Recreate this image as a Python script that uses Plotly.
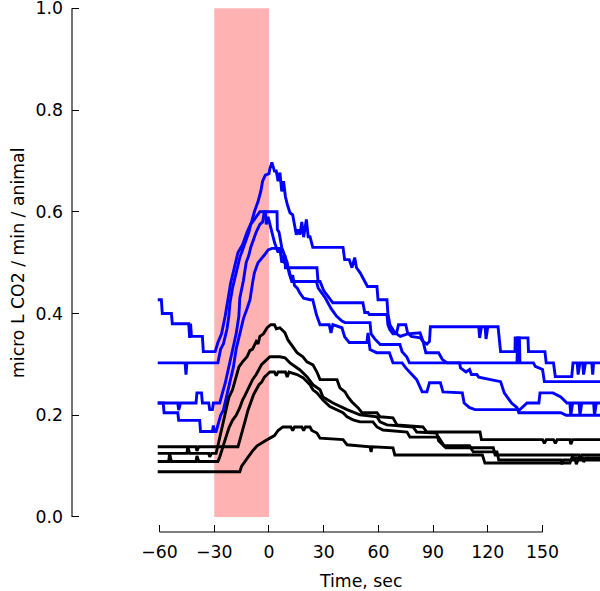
import plotly.graph_objects as go

# ---------------- data (time in s, value in micro L CO2 / min / animal) ----------------
blue_1 = [(-61,0.427),(-59,0.427),(-58.5,0.40),(-53.5,0.40),(-53,0.38),(-44,0.38),(-43.5,0.352),(-43,0.38),
          (-42.5,0.355),(-36.5,0.355),(-36,0.325),(-29.5,0.325),(-28,0.343),(-26,0.36),(-24,0.395),(-22.5,0.427),
          (-21,0.46),(-19,0.49),(-17,0.52),(-14.5,0.535),(-12,0.56),(-9.5,0.58),(-8,0.6),(-6,0.62),(-4.5,0.64),
          (-3.5,0.66),(-2,0.672),(0,0.675),(0.5,0.685),(1.6,0.697),(3,0.68),(4,0.68),(5,0.66),(6,0.677),(7,0.64),
          (8,0.66),(9,0.63),(10,0.615),(11.5,0.598),(13,0.594),(14,0.575),(15,0.555),(16,0.565),(17,0.555),
          (18,0.58),(19,0.55),(20.5,0.585),(21.5,0.551),(22.5,0.551),(24,0.53),(40.6,0.53),(41.5,0.506),
          (44,0.506),(45.5,0.49),(47,0.51),(48,0.49),(50,0.48),(51.5,0.47),(54,0.453),(59.2,0.453),(59.8,0.427),
          (64.7,0.427),(65.2,0.40),(66.3,0.378),(69,0.362),(70,0.362),(71,0.378),(75,0.378),(76,0.362),
          (78,0.355),(83,0.352),(84.4,0.345),(86.6,0.34),(88,0.345),(88.5,0.374),(115,0.374),(115.5,0.352),
          (116.5,0.374),(118.5,0.374),(119,0.35),(120,0.374),(125.6,0.374),(127,0.325),(134.9,0.325),
          (135,0.352),(142,0.352),(142.3,0.325),(151.3,0.325),(152,0.303),(156,0.303),(157,0.276),(166,0.276),
          (166.7,0.303),(169,0.303),(169.5,0.28),(170.5,0.303),(172,0.303),(172.5,0.28),(173.5,0.303),
          (177,0.303),(177.5,0.28),(178,0.303),(181.5,0.303)]

blue_2 = [(-61,0.303),(-46,0.303),(-45.5,0.28),(-45,0.303),(-28,0.303),(-26.5,0.33),(-25,0.34),(-23,0.37),
          (-22,0.395),(-21.4,0.42),(-20,0.45),(-18,0.48),(-16,0.51),(-14.5,0.525),(-13,0.54),(-11,0.56),
          (-10,0.575),(-8,0.585),(-6.5,0.595),(-5,0.6),(-2,0.6),(-1.5,0.575),(-0.5,0.59),(0.5,0.575),(1.5,0.56),
          (3,0.54),(5,0.52),(6,0.53),(7,0.5),(8.8,0.515),(9,0.49),(26.3,0.49),(26.9,0.463),(28,0.463),
          (30,0.445),(33,0.43),(35,0.421),(51.5,0.421),(52.5,0.402),(54.3,0.402),(55,0.398),(64.7,0.398),
          (65.2,0.378),(66.3,0.368),(68,0.36),(70,0.36),(72,0.355),(76,0.36),(80,0.362),(82.8,0.362),
          (84.5,0.345),(86,0.323),(93,0.323),(95,0.31),(97.6,0.303),(136,0.303),(136.3,0.352),(137.3,0.352),
          (137.6,0.303),(145,0.303),(146,0.296),(150,0.29),(151,0.266),(181.5,0.266)]

blue_3 = [(-61,0.224),(-50,0.224),(-49.5,0.21),(-48.5,0.224),(-40,0.224),(-39.5,0.244),(-37,0.244),
          (-36.5,0.224),(-33,0.224),(-32.5,0.211),(-31,0.211),(-30.5,0.224),(-27,0.224),(-26,0.235),
          (-25.8,0.24),(-24,0.263),(-22,0.295),(-20,0.33),(-18,0.36),(-16.5,0.395),(-16,0.43),(-14,0.465),
          (-12.5,0.5),(-11,0.515),(-10,0.53),(-8.5,0.545),(-7,0.56),(-5,0.575),(-3.5,0.58),(-2.5,0.6),
          (4.4,0.6),(4.6,0.565),(5.5,0.56),(7,0.53),(8.5,0.515),(10,0.5),(11,0.48),(12.5,0.463),(26,0.463),
          (27,0.45),(29,0.44),(31,0.43),(34,0.41),(37,0.395),(40,0.385),(41.7,0.382),(55.4,0.382),(56,0.36),
          (58,0.35),(60,0.343),(61,0.339),(71.8,0.339),(73,0.325),(75.5,0.315),(77,0.303),(104.5,0.303),
          (105,0.293),(108,0.285),(110,0.29),(111,0.28),(114,0.28),(115,0.275),(118,0.273),(121,0.27),
          (124,0.268),(127,0.266),(129,0.244),(131,0.235),(133,0.224),(136,0.215),(137,0.205),(160,0.205),
          (163,0.2),(181.5,0.2)]

blue_4 = [(-61,0.224),(-58,0.224),(-57.5,0.205),(-50,0.205),(-49.5,0.19),(-38,0.19),(-37.5,0.168),
          (-31,0.168),(-30.5,0.18),(-30,0.168),(-29,0.168),(-28,0.18),(-26.5,0.2),(-25,0.21),(-23.5,0.235),
          (-21.5,0.265),(-19.5,0.295),(-18,0.33),(-16,0.36),(-14,0.39),(-12,0.41),(-10.4,0.427),(-9,0.46),
          (-8,0.48),(-6,0.5),(-3.5,0.51),(-2.5,0.515),(-0.5,0.525),(1.6,0.528),(6,0.528),(7,0.51),(8.5,0.5),
          (10,0.49),(11,0.485),(12,0.47),(13,0.475),(14,0.455),(15.5,0.45),(17,0.44),(19,0.43),(22.5,0.427),
          (24,0.427),(26,0.398),(28,0.378),(33,0.378),(34,0.362),(35,0.378),(40,0.372),(41.5,0.354),
          (44,0.343),(53.7,0.343),(54.3,0.362),(55.4,0.329),(59,0.323),(66,0.323),(68,0.303),(73,0.303),
          (75,0.293),(81,0.27),(84,0.246),(86.6,0.246),(88,0.264),(94,0.264),(95.4,0.246),(106,0.244),
          (107,0.224),(110,0.215),(113,0.211),(137.6,0.211),(141.5,0.224),(148,0.224),(148.6,0.244),
          (155.7,0.244),(160,0.236),(163.4,0.224),(165,0.224),(165.5,0.2),(166.5,0.224),(170,0.224),
          (170.5,0.2),(171.5,0.224),(178,0.224),(178.5,0.2),(179.5,0.224),(181.5,0.224)]

black_1 = [(-61,0.125),(-45,0.125),(-44.5,0.138),(-43.5,0.125),(-33,0.125),(-32.5,0.118),(-31.5,0.125),
           (-29,0.125),(-28,0.14),(-26.5,0.165),(-25,0.19),(-23.5,0.215),(-22,0.235),(-20,0.25),(-18.5,0.27),
           (-16.5,0.295),(-14.5,0.305),(-12,0.315),(-10.5,0.327),(-9,0.33),(-7,0.345),(-6,0.34),(-5,0.355),
           (-3,0.36),(-1,0.372),(1,0.378),(3,0.378),(4,0.37),(6,0.372),(8.8,0.362),(10.4,0.348),(13.2,0.335),
           (15.4,0.323),(18.6,0.315),(20.8,0.305),(24.1,0.299),(26.3,0.285),(28,0.27),(37.3,0.27),
           (38.9,0.254),(41.7,0.246),(43.3,0.236),(45.5,0.226),(48.8,0.215),(51,0.205),(59.2,0.205),
           (60.9,0.197),(68,0.195),(70.2,0.181),(84.4,0.177),(86.6,0.167),(115.7,0.167),(116.5,0.152),
           (150,0.152),(151,0.145),(152,0.152),(156,0.152),(157,0.145),(158,0.152),(165,0.152),
           (165.5,0.143),(166.5,0.152),(181.5,0.152)]

black_2 = [(-61,0.109),(-55,0.109),(-54.5,0.125),(-53.5,0.109),(-40,0.109),(-39.5,0.12),(-38.5,0.109),
           (-28,0.109),(-27,0.118),(-25.5,0.135),(-24,0.155),(-22,0.175),(-20,0.19),(-18,0.2),(-16,0.215),
           (-14.5,0.23),(-13,0.24),(-11,0.255),(-9,0.27),(-7,0.28),(-5.5,0.29),(-4,0.3),(-2.5,0.305),
           (-1,0.31),(0.5,0.315),(6,0.315),(8.8,0.313),(11.5,0.303),(17,0.289),(20.8,0.276),(24.1,0.26),
           (28,0.25),(29.6,0.236),(35.1,0.224),(38.9,0.217),(42.8,0.211),(49.9,0.201),(59.2,0.197),
           (60.9,0.187),(64.7,0.181),(79,0.177),(81,0.167),(92,0.165),(93,0.15),(97,0.136),(123,0.136),
           (124,0.122),(166,0.122),(167,0.116),(172,0.116),(172.5,0.108),(173.5,0.116),(181.5,0.116)]

black_3 = [(-61,0.138),(-40,0.138),(-39.5,0.13),(-38.5,0.138),(-17,0.138),(-16,0.15),(-14.5,0.17),
           (-13,0.19),(-11.5,0.21),(-10,0.225),(-8.5,0.24),(-7,0.25),(-5.5,0.26),(-4,0.265),(-2.5,0.275),
           (-1,0.28),(0.5,0.285),(3,0.285),(4,0.278),(5,0.285),(9,0.285),(10,0.275),(11,0.285),(15.4,0.28),
           (18.6,0.274),(22.5,0.26),(24.1,0.25),(26.3,0.244),(29.6,0.23),(33.4,0.217),(37.3,0.211),
           (40.6,0.205),(42.8,0.197),(46.1,0.191),(49.9,0.187),(57,0.187),(59.2,0.177),(62.5,0.171),
           (75.7,0.167),(77.3,0.157),(93,0.157),(96,0.14),(110,0.14),(112,0.128),(125,0.128),(126,0.112),
           (160,0.112),(160.5,0.104),(161.5,0.112),(168,0.112),(168.5,0.104),(169.5,0.112),(181.5,0.112)]

black_4 = [(-61,0.089),(-16,0.089),(-15,0.1),(-13,0.11),(-11.5,0.12),(-9,0.13),(-6.5,0.14),(-4.5,0.145),
           (-2,0.15),(0.5,0.155),(3,0.16),(5,0.17),(7.6,0.177),(12,0.177),(13,0.17),(14,0.177),(18,0.177),
           (19,0.17),(20,0.177),(22.5,0.177),(23.5,0.17),(26.3,0.165),(28,0.155),(40.6,0.152),(42.8,0.142),
           (55.4,0.138),(56,0.128),(56.5,0.138),(68,0.136),(69,0.122),(117,0.122),(118.4,0.106),(165,0.106),
           (166.7,0.122),(170,0.122),(170.5,0.114),(171.5,0.122),(181.5,0.122)]

blue_series = [blue_1, blue_2, blue_3, blue_4]
black_series = [black_1, black_2, black_3, black_4]

stim_window = (-30, 0)
x_ticks = [-60, -30, 0, 30, 60, 90, 120, 150]
x_ticklabels = ["\u221260", "\u221230", "0", "30", "60", "90", "120", "150"]
y_ticks = [0.0, 0.2, 0.4, 0.6, 0.8, 1.0]
y_ticklabels = ["0.0", "0.2", "0.4", "0.6", "0.8", "1.0"]

# ---------------- figure ----------------
FONT = "DejaVu Sans"
FS = 17.3

fig = go.Figure()

for s in blue_series:
    fig.add_trace(go.Scatter(x=[p[0] for p in s], y=[p[1] for p in s], mode="lines",
                             line=dict(color="#0000ff", width=2.9), hoverinfo="skip"))
for s in black_series:
    fig.add_trace(go.Scatter(x=[p[0] for p in s], y=[p[1] for p in s], mode="lines",
                             line=dict(color="#000000", width=2.9), hoverinfo="skip"))

# stimulus window
fig.add_shape(type="rect", xref="x", yref="y", x0=stim_window[0], x1=stim_window[1], y0=0, y1=1.0,
              fillcolor="rgba(255,0,0,0.3)", line=dict(width=0), layer="below")
# offset spines
fig.add_shape(type="line", xref="x", yref="paper", x0=x_ticks[0], x1=x_ticks[-1], y0=0, y1=0,
              line=dict(color="black", width=1.1))
fig.add_shape(type="line", xref="paper", yref="y", x0=0, x1=0, y0=y_ticks[0], y1=y_ticks[-1],
              line=dict(color="black", width=1.1))

# plot area: x from 72 px to 600 px, y from 7 px to 532 px
fig.update_layout(
    width=600, height=591,
    margin=dict(l=72, r=0, t=7, b=59, autoexpand=False),
    plot_bgcolor="white", paper_bgcolor="white",
    showlegend=False,
    font=dict(family=FONT, size=FS, color="black"),
    xaxis=dict(range=[-108.0, 181.5], showgrid=False, zeroline=False, showline=False, automargin=False,
               tickmode="array", tickvals=x_ticks, ticktext=x_ticklabels, ticklabeloverflow="allow",
               ticks="inside", ticklen=7, tickwidth=1.1, tickcolor="black",
               ticklabelstandoff=8, tickfont=dict(family=FONT, size=FS)),
    yaxis=dict(range=[-0.0295, 1.0025], showgrid=False, zeroline=False, showline=False, automargin=False,
               tickmode="array", tickvals=y_ticks, ticktext=y_ticklabels, ticklabeloverflow="allow",
               ticks="inside", ticklen=7, tickwidth=1.1, tickcolor="black",
               ticklabelstandoff=8, tickfont=dict(family=FONT, size=FS)),
    annotations=[
        dict(text="Time, sec", xref="paper", yref="paper", x=(360 - 72) / 528, y=(532 - 581) / 525,
             xanchor="center", yanchor="middle", showarrow=False, font=dict(family=FONT, size=FS)),
        dict(text="micro L CO2 / min / animal", xref="paper", yref="paper", x=(18 - 72) / 528,
             y=(532 - 263) / 525, xanchor="center", yanchor="middle", textangle=-90, showarrow=False,
             font=dict(family=FONT, size=FS)),
    ],
)

fig.write_html("out.html", config={"displayModeBar": False},
               post_script="document.body.style.margin='0';document.body.style.padding='0';")
